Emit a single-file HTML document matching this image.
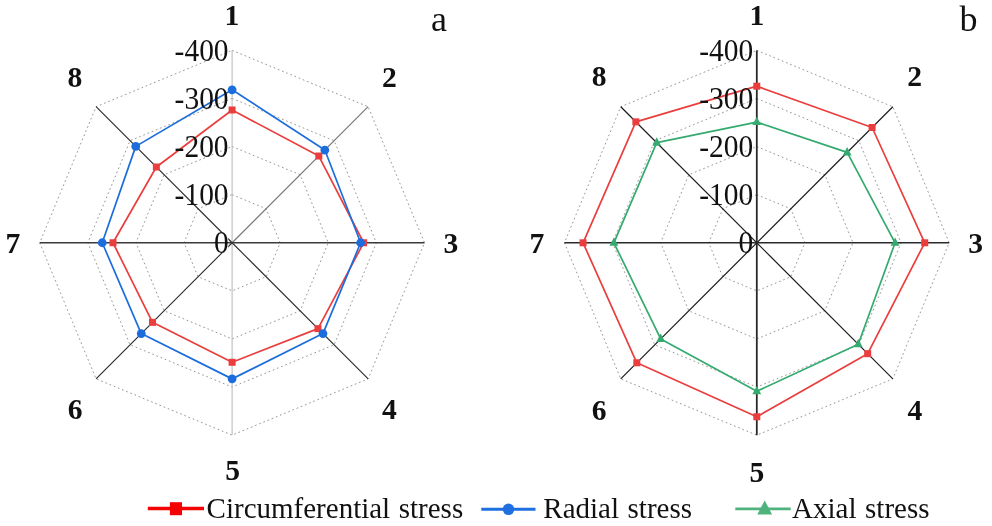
<!DOCTYPE html>
<html lang="en"><head><meta charset="utf-8"><title>Radar charts</title>
<style>html,body{margin:0;padding:0;background:#fff}body{width:992px;height:526px;overflow:hidden}svg{display:block}
text{font-family:"Liberation Serif","Times New Roman",serif;fill:#111}
.ax{font-weight:bold;font-size:29.6px;text-anchor:middle}.tk{font-size:30.5px;text-anchor:end}.lg{font-size:29px;word-spacing:1.3px}.pl{font-size:36px}
</style></head><body>
<svg width="992" height="526" viewBox="0 0 992 526">
<rect width="992" height="526" fill="#fff"/>
<polygon points="232.10,194.65 266.11,208.74 280.20,242.75 266.11,276.76 232.10,290.85 198.09,276.76 184.00,242.75 198.09,208.74" fill="none" stroke="#909090" stroke-width="0.95" stroke-dasharray="1.7 2.8"/>
<polygon points="232.10,146.55 300.12,174.73 328.30,242.75 300.12,310.77 232.10,338.95 164.08,310.77 135.90,242.75 164.08,174.73" fill="none" stroke="#909090" stroke-width="0.95" stroke-dasharray="1.7 2.8"/>
<polygon points="232.10,98.45 334.14,140.71 376.40,242.75 334.14,344.79 232.10,387.05 130.06,344.79 87.80,242.75 130.06,140.71" fill="none" stroke="#909090" stroke-width="0.95" stroke-dasharray="1.7 2.8"/>
<polygon points="232.10,50.35 368.15,106.70 424.50,242.75 368.15,378.80 232.10,435.15 96.05,378.80 39.70,242.75 96.05,106.70" fill="none" stroke="#909090" stroke-width="0.95" stroke-dasharray="1.7 2.8"/>
<line x1="232.1" y1="242.75" x2="232.10" y2="50.35" stroke="#b8b8b8" stroke-width="1.0"/>
<line x1="232.1" y1="242.75" x2="232.10" y2="435.15" stroke="#b8b8b8" stroke-width="1.0"/>
<line x1="232.1" y1="242.75" x2="368.15" y2="106.70" stroke="#777" stroke-width="1.1"/>
<line x1="232.1" y1="242.75" x2="368.15" y2="378.80" stroke="#2a2a2a" stroke-width="1.1"/>
<line x1="232.1" y1="242.75" x2="96.05" y2="378.80" stroke="#2a2a2a" stroke-width="1.1"/>
<line x1="232.1" y1="242.75" x2="96.05" y2="106.70" stroke="#2a2a2a" stroke-width="1.1"/>
<rect x="215.0" y="233.2" width="13.2" height="19.4" fill="#fff"/>
<line x1="232.1" y1="242.75" x2="424.50" y2="242.75" stroke="#3a3a3a" stroke-width="1.5"/>
<line x1="232.1" y1="242.75" x2="39.70" y2="242.75" stroke="#3a3a3a" stroke-width="1.5"/>
<polygon points="232.10,109.99 318.83,156.02 363.65,242.75 317.98,328.63 232.10,362.28 152.51,322.34 113.00,242.75 156.36,167.01" fill="none" stroke="#ea3e3e" stroke-width="1.7" stroke-linejoin="round"/>
<rect x="228.60" y="106.49" width="7.00" height="7.00" fill="#ea3e3e"/>
<rect x="315.33" y="152.52" width="7.00" height="7.00" fill="#ea3e3e"/>
<rect x="360.15" y="239.25" width="7.00" height="7.00" fill="#ea3e3e"/>
<rect x="314.48" y="325.13" width="7.00" height="7.00" fill="#ea3e3e"/>
<rect x="228.60" y="358.78" width="7.00" height="7.00" fill="#ea3e3e"/>
<rect x="149.01" y="318.84" width="7.00" height="7.00" fill="#ea3e3e"/>
<rect x="109.50" y="239.25" width="7.00" height="7.00" fill="#ea3e3e"/>
<rect x="152.86" y="163.51" width="7.00" height="7.00" fill="#ea3e3e"/>
<polygon points="232.10,89.79 324.82,150.03 360.62,242.75 322.95,333.60 232.10,378.87 141.25,333.60 102.23,242.75 135.74,146.39" fill="none" stroke="#1c6ddc" stroke-width="1.7" stroke-linejoin="round"/>
<circle cx="232.10" cy="89.79" r="4.40" fill="#1c6ddc"/>
<circle cx="324.82" cy="150.03" r="4.40" fill="#1c6ddc"/>
<circle cx="360.62" cy="242.75" r="4.40" fill="#1c6ddc"/>
<circle cx="322.95" cy="333.60" r="4.40" fill="#1c6ddc"/>
<circle cx="232.10" cy="378.87" r="4.40" fill="#1c6ddc"/>
<circle cx="141.25" cy="333.60" r="4.40" fill="#1c6ddc"/>
<circle cx="102.23" cy="242.75" r="4.40" fill="#1c6ddc"/>
<circle cx="135.74" cy="146.39" r="4.40" fill="#1c6ddc"/>
<text class="tk" transform="translate(228.6,253.1) scale(0.966,1)">0</text>
<text class="tk" transform="translate(228.6,205.0) scale(0.966,1)">-100</text>
<text class="tk" transform="translate(228.6,156.9) scale(0.966,1)">-200</text>
<text class="tk" transform="translate(228.6,108.7) scale(0.966,1)">-300</text>
<text class="tk" transform="translate(228.6,60.6) scale(0.966,1)">-400</text>
<text class="ax" x="232" y="24.6">1</text>
<text class="ax" x="389.4" y="86.6">2</text>
<text class="ax" x="451" y="252.8">3</text>
<text class="ax" x="389.4" y="419">4</text>
<text class="ax" x="232.6" y="480.4">5</text>
<text class="ax" x="75.2" y="419">6</text>
<text class="ax" x="13" y="252.8">7</text>
<text class="ax" x="75" y="86.6">8</text>
<polygon points="756.80,194.70 790.81,208.79 804.90,242.80 790.81,276.81 756.80,290.90 722.79,276.81 708.70,242.80 722.79,208.79" fill="none" stroke="#909090" stroke-width="0.95" stroke-dasharray="1.7 2.8"/>
<polygon points="756.80,146.60 824.82,174.78 853.00,242.80 824.82,310.82 756.80,339.00 688.78,310.82 660.60,242.80 688.78,174.78" fill="none" stroke="#909090" stroke-width="0.95" stroke-dasharray="1.7 2.8"/>
<polygon points="756.80,98.50 858.84,140.76 901.10,242.80 858.84,344.84 756.80,387.10 654.76,344.84 612.50,242.80 654.76,140.76" fill="none" stroke="#909090" stroke-width="0.95" stroke-dasharray="1.7 2.8"/>
<polygon points="756.80,50.40 892.85,106.75 949.20,242.80 892.85,378.85 756.80,435.20 620.75,378.85 564.40,242.80 620.75,106.75" fill="none" stroke="#909090" stroke-width="0.95" stroke-dasharray="1.7 2.8"/>
<line x1="756.8" y1="242.8" x2="756.80" y2="50.40" stroke="#2a2a2a" stroke-width="1.8"/>
<line x1="756.8" y1="242.8" x2="756.80" y2="435.20" stroke="#2a2a2a" stroke-width="1.8"/>
<line x1="756.8" y1="242.8" x2="892.85" y2="106.75" stroke="#1a1a1a" stroke-width="1.2"/>
<line x1="756.8" y1="242.8" x2="892.85" y2="378.85" stroke="#1a1a1a" stroke-width="1.2"/>
<line x1="756.8" y1="242.8" x2="620.75" y2="378.85" stroke="#1a1a1a" stroke-width="1.2"/>
<line x1="756.8" y1="242.8" x2="620.75" y2="106.75" stroke="#1a1a1a" stroke-width="1.2"/>
<line x1="756.8" y1="242.8" x2="949.20" y2="242.80" stroke="#2a2a2a" stroke-width="1.6"/>
<line x1="756.8" y1="242.8" x2="564.40" y2="242.80" stroke="#2a2a2a" stroke-width="1.6"/>
<polygon points="756.80,86.19 872.10,127.50 924.72,242.80 867.68,353.68 756.80,416.78 636.81,362.79 583.06,242.80 635.85,121.85" fill="none" stroke="#ea3e3e" stroke-width="1.7" stroke-linejoin="round"/>
<rect x="753.30" y="82.69" width="7.00" height="7.00" fill="#ea3e3e"/>
<rect x="868.60" y="124.00" width="7.00" height="7.00" fill="#ea3e3e"/>
<rect x="921.22" y="239.30" width="7.00" height="7.00" fill="#ea3e3e"/>
<rect x="864.18" y="350.18" width="7.00" height="7.00" fill="#ea3e3e"/>
<rect x="753.30" y="413.28" width="7.00" height="7.00" fill="#ea3e3e"/>
<rect x="633.31" y="359.29" width="7.00" height="7.00" fill="#ea3e3e"/>
<rect x="579.56" y="239.30" width="7.00" height="7.00" fill="#ea3e3e"/>
<rect x="632.35" y="118.35" width="7.00" height="7.00" fill="#ea3e3e"/>
<polygon points="756.80,122.07 847.17,152.43 895.09,242.80 858.26,344.26 756.80,391.28 660.72,338.88 613.89,242.80 656.70,142.70" fill="none" stroke="#34aa6e" stroke-width="1.7" stroke-linejoin="round"/>
<polygon points="756.80,116.67 761.20,125.07 752.40,125.07" fill="#34aa6e"/>
<polygon points="847.17,147.03 851.57,155.43 842.77,155.43" fill="#34aa6e"/>
<polygon points="895.09,237.40 899.49,245.80 890.69,245.80" fill="#34aa6e"/>
<polygon points="858.26,338.86 862.66,347.26 853.86,347.26" fill="#34aa6e"/>
<polygon points="756.80,385.88 761.20,394.28 752.40,394.28" fill="#34aa6e"/>
<polygon points="660.72,333.48 665.12,341.88 656.32,341.88" fill="#34aa6e"/>
<polygon points="613.89,237.40 618.29,245.80 609.49,245.80" fill="#34aa6e"/>
<polygon points="656.70,137.30 661.10,145.70 652.30,145.70" fill="#34aa6e"/>
<text class="tk" transform="translate(753.2,253.1) scale(0.966,1)">0</text>
<text class="tk" transform="translate(753.2,205.0) scale(0.966,1)">-100</text>
<text class="tk" transform="translate(753.2,156.9) scale(0.966,1)">-200</text>
<text class="tk" transform="translate(753.2,108.8) scale(0.966,1)">-300</text>
<text class="tk" transform="translate(753.2,60.7) scale(0.966,1)">-400</text>
<text class="ax" x="757" y="25">1</text>
<text class="ax" x="914.6" y="86">2</text>
<text class="ax" x="975.6" y="253">3</text>
<text class="ax" x="915" y="420.4">4</text>
<text class="ax" x="757" y="481.6">5</text>
<text class="ax" x="599.2" y="420.4">6</text>
<text class="ax" x="537" y="253">7</text>
<text class="ax" x="599.2" y="86">8</text>
<text class="pl" x="431" y="31.2">a</text>
<text class="pl" x="959.6" y="31.2">b</text>
<line x1="147.8" y1="508.4" x2="204" y2="508.4" stroke="#f40202" stroke-width="3.5"/>
<rect x="169.9" y="502.2" width="12.1" height="13" fill="#f40202"/>
<text class="lg" x="206.6" y="517.6">Circumferential stress</text>
<line x1="481.3" y1="509.3" x2="535.5" y2="509.3" stroke="#1f6fe0" stroke-width="3"/>
<circle cx="508.5" cy="509.3" r="5.8" fill="#1f6fe0"/>
<text class="lg" x="543.3" y="517.6">Radial stress</text>
<line x1="735.3" y1="508.9" x2="790.7" y2="508.9" stroke="#4fb37e" stroke-width="2.8"/>
<polygon points="764.7,500.4 772.1,514.4 757.3,514.4" fill="#4fb37e"/>
<text class="lg" x="792.1" y="517.6">Axial stress</text>
</svg></body></html>
